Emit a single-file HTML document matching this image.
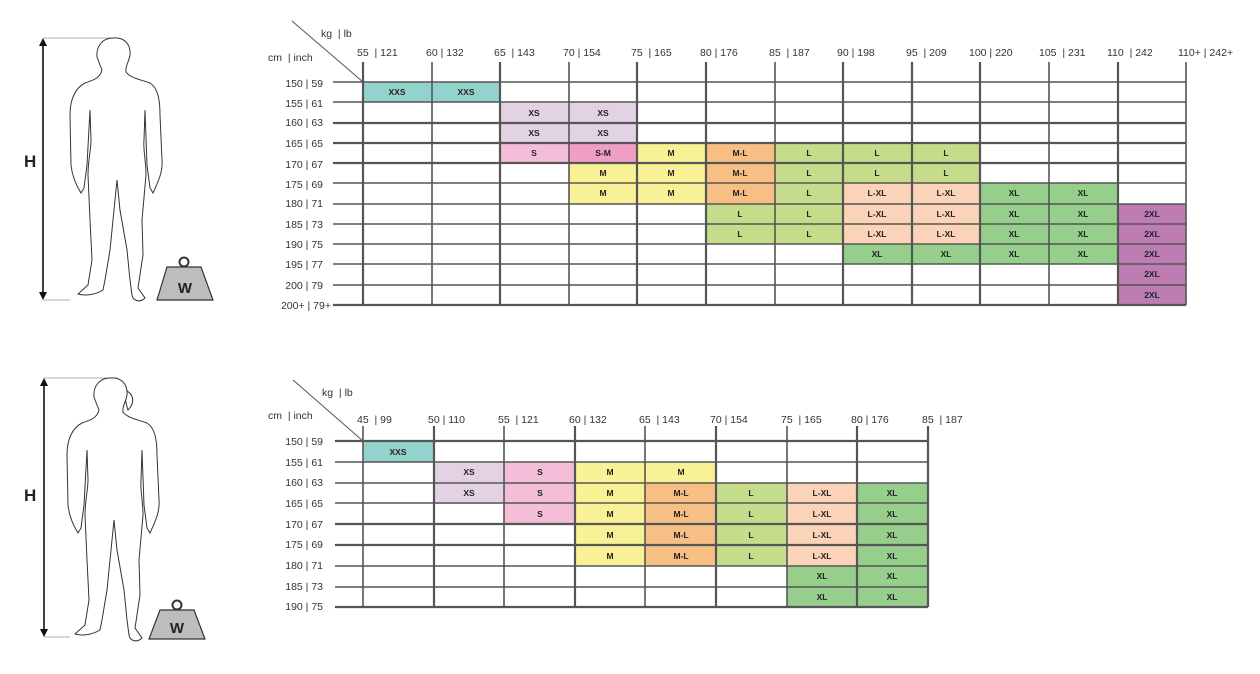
<!DOCTYPE html>
<html><head><meta charset="utf-8"><style>
html,body{margin:0;padding:0;background:#fff;}
svg{display:block;font-family:"Liberation Sans",sans-serif;}
.h{font-size:10.5px;fill:#333;}
.r{font-size:10.5px;fill:#333;text-anchor:end;}
.c{font-size:8.5px;font-weight:bold;fill:#222;text-anchor:middle;}
.g{stroke:#555;stroke-width:1.6;}
.gt{stroke:#555;stroke-width:2.2;}
.XXS{fill:#94d3cd}.XS{fill:#e3d1e4}.S{fill:#f5bed8}.SM{fill:#ef9ec4}.M{fill:#f8f195}.ML{fill:#f8bf85}.L{fill:#c5dc8a}.LXL{fill:#fbd3b9}.XL{fill:#96cf8c}.X2{fill:#bd7cb2}
</style></head><body>
<svg width="1260" height="674" viewBox="0 0 1260 674" xmlns="http://www.w3.org/2000/svg">
<defs>
<path id="body" fill="#fff" stroke="#333" stroke-width="1" d="M113,38 C124,37 131,44 130,55 C129,62 125,66 126,72 C130,78 142,80 150,83 C158,88 160,100 160,115 L162,160 C163,172 158,182 153,193 L150,188 L147,165 L145,110 L144,140 C143,150 146,160 146,175 L142,220 L143,255 L138,288 L145,298 C140,303 133,301 132,295 L130,280 L127,250 L120,210 L117,180 L114,210 L110,250 L105,280 L103,290 C95,295 85,296 78,294 L88,285 L92,260 L90,220 L88,175 C88,160 91,150 91,140 L90,110 L87,165 L84,188 L81,193 C76,185 72,175 71,165 L70,115 C70,100 75,88 85,83 C94,80 100,78 102,70 L100,65 L97,57 C96,47 102,38 113,38 Z"/>
</defs>
<!-- male figure -->
<line x1="43" y1="38" x2="118" y2="38" stroke="#999" stroke-width="0.8"/>
<line x1="43" y1="300" x2="70" y2="300" stroke="#999" stroke-width="0.8"/>
<line x1="43" y1="44" x2="43" y2="294" stroke="#111" stroke-width="1.6"/>
<polygon points="43,38 39,46 47,46" fill="#111"/><polygon points="43,300 39,292 47,292" fill="#111"/>
<text x="24" y="167" font-size="17" font-weight="bold" fill="#222">H</text>
<use href="#body"/>
<circle cx="184" cy="262" r="4.5" fill="#fff" stroke="#333" stroke-width="2"/>
<polygon points="167,267 201,267 213,300 157,300" fill="#bdbdbd" stroke="#333" stroke-width="1.2"/>
<text x="185" y="293" font-size="15" font-weight="bold" fill="#222" text-anchor="middle">W</text>

<!-- female figure -->
<line x1="44" y1="378" x2="118" y2="378" stroke="#999" stroke-width="0.8"/>
<line x1="44" y1="637" x2="70" y2="637" stroke="#999" stroke-width="0.8"/>
<line x1="44" y1="384" x2="44" y2="631" stroke="#111" stroke-width="1.6"/>
<polygon points="44,378 40,386 48,386" fill="#111"/><polygon points="44,637 40,629 48,629" fill="#111"/>
<text x="24" y="501" font-size="17" font-weight="bold" fill="#222">H</text>
<path d="M124,390 C133,392 136,402 128,410 C126,404 125,398 124,390 Z" fill="#fff" stroke="#333" stroke-width="1"/>
<use href="#body" transform="translate(-3,340)"/>
<circle cx="177" cy="605" r="4.5" fill="#fff" stroke="#333" stroke-width="2"/>
<polygon points="160,610 194,610 205,639 149,639" fill="#bdbdbd" stroke="#333" stroke-width="1.2"/>
<text x="177" y="633" font-size="15" font-weight="bold" fill="#222" text-anchor="middle">W</text>

<!-- TOP TABLE cells -->
<g>
<rect class="XXS" x="363" y="82" width="69" height="20"/><rect class="XXS" x="432" y="82" width="68" height="20"/>
<rect class="XS" x="500" y="102" width="69" height="21"/><rect class="XS" x="569" y="102" width="68" height="21"/>
<rect class="XS" x="500" y="123" width="69" height="20"/><rect class="XS" x="569" y="123" width="68" height="20"/>
<rect class="S" x="500" y="143" width="69" height="20"/><rect class="SM" x="569" y="143" width="68" height="20"/><rect class="M" x="637" y="143" width="69" height="20"/><rect class="ML" x="706" y="143" width="69" height="20"/><rect class="L" x="775" y="143" width="205" height="20"/>
<rect class="M" x="569" y="163" width="137" height="20"/><rect class="ML" x="706" y="163" width="69" height="20"/><rect class="L" x="775" y="163" width="205" height="20"/>
<rect class="M" x="569" y="183" width="137" height="21"/><rect class="ML" x="706" y="183" width="69" height="21"/><rect class="L" x="775" y="183" width="68" height="21"/><rect class="LXL" x="843" y="183" width="137" height="21"/><rect class="XL" x="980" y="183" width="138" height="21"/>
<rect class="L" x="706" y="204" width="137" height="40"/><rect class="LXL" x="843" y="204" width="137" height="40"/><rect class="XL" x="980" y="204" width="138" height="60"/><rect class="XL" x="843" y="244" width="137" height="20"/>
<rect class="X2" x="1118" y="204" width="68" height="101"/>
</g>
<g class="c">
<text x="397" y="95">XXS</text><text x="466" y="95">XXS</text>
<text x="534" y="116">XS</text><text x="603" y="116">XS</text>
<text x="534" y="136">XS</text><text x="603" y="136">XS</text>
<text x="534" y="156">S</text><text x="603" y="156">S-M</text><text x="671" y="156">M</text><text x="740" y="156">M-L</text><text x="809" y="156">L</text><text x="877" y="156">L</text><text x="946" y="156">L</text>
<text x="603" y="176">M</text><text x="671" y="176">M</text><text x="740" y="176">M-L</text><text x="809" y="176">L</text><text x="877" y="176">L</text><text x="946" y="176">L</text>
<text x="603" y="196">M</text><text x="671" y="196">M</text><text x="740" y="196">M-L</text><text x="809" y="196">L</text><text x="877" y="196">L-XL</text><text x="946" y="196">L-XL</text><text x="1014" y="196">XL</text><text x="1083" y="196">XL</text>
<text x="740" y="217">L</text><text x="809" y="217">L</text><text x="877" y="217">L-XL</text><text x="946" y="217">L-XL</text><text x="1014" y="217">XL</text><text x="1083" y="217">XL</text><text x="1152" y="217">2XL</text>
<text x="740" y="237">L</text><text x="809" y="237">L</text><text x="877" y="237">L-XL</text><text x="946" y="237">L-XL</text><text x="1014" y="237">XL</text><text x="1083" y="237">XL</text><text x="1152" y="237">2XL</text>
<text x="877" y="257">XL</text><text x="946" y="257">XL</text><text x="1014" y="257">XL</text><text x="1083" y="257">XL</text><text x="1152" y="257">2XL</text>
<text x="1152" y="277">2XL</text>
<text x="1152" y="298">2XL</text>
</g>
<!-- top grid -->
<g class="g">
<line x1="333" y1="82" x2="1186" y2="82"/><line x1="333" y1="102" x2="1186" y2="102"/><line class="gt" x1="333" y1="123" x2="1186" y2="123"/><line class="gt" x1="333" y1="143" x2="1186" y2="143"/><line class="gt" x1="333" y1="163" x2="1186" y2="163"/><line x1="333" y1="183" x2="1186" y2="183"/><line x1="333" y1="204" x2="1186" y2="204"/><line x1="333" y1="224" x2="1186" y2="224"/><line x1="333" y1="244" x2="1186" y2="244"/><line x1="333" y1="264" x2="1186" y2="264"/><line x1="333" y1="285" x2="1186" y2="285"/><line class="gt" x1="333" y1="305" x2="1186" y2="305"/>
</g>
<g class="gt">
<line x1="363" y1="62" x2="363" y2="305"/><line class="g" x1="432" y1="62" x2="432" y2="305"/><line x1="500" y1="62" x2="500" y2="305"/><line class="g" x1="569" y1="62" x2="569" y2="305"/><line x1="637" y1="62" x2="637" y2="305"/><line x1="706" y1="62" x2="706" y2="305"/><line class="g" x1="775" y1="62" x2="775" y2="305"/><line x1="843" y1="62" x2="843" y2="305"/><line x1="912" y1="62" x2="912" y2="305"/><line x1="980" y1="62" x2="980" y2="305"/><line class="g" x1="1049" y1="62" x2="1049" y2="305"/><line x1="1118" y1="62" x2="1118" y2="305"/><line class="g" x1="1186" y1="62" x2="1186" y2="305"/>
</g>
<line x1="292" y1="21" x2="363" y2="82" stroke="#555" stroke-width="1"/>
<text class="h" x="321" y="37">kg &#160;| lb</text>
<text class="h" x="268" y="61">cm &#160;| inch</text>
<g class="h">
<text x="357" y="56">55 &#160;| 121</text><text x="426" y="56">60 | 132</text><text x="494" y="56">65 &#160;| 143</text><text x="563" y="56">70 | 154</text><text x="631" y="56">75 &#160;| 165</text><text x="700" y="56">80 | 176</text><text x="769" y="56">85 &#160;| 187</text><text x="837" y="56">90 | 198</text><text x="906" y="56">95 &#160;| 209</text><text x="969" y="56">100 | 220</text><text x="1039" y="56">105 &#160;| 231</text><text x="1107" y="56">110 &#160;| 242</text><text x="1178" y="56">110+ | 242+</text>
</g>
<g class="r">
<text x="323" y="87">150 | 59</text><text x="323" y="107">155 | 61</text><text x="323" y="126">160 | 63</text><text x="323" y="147">165 | 65</text><text x="323" y="168">170 | 67</text><text x="323" y="188">175 | 69</text><text x="323" y="207">180 | 71</text><text x="323" y="228">185 | 73</text><text x="323" y="248">190 | 75</text><text x="323" y="268">195 | 77</text><text x="323" y="289">200 | 79</text><text x="331" y="309">200+ | 79+</text>
</g>

<!-- BOTTOM TABLE cells -->
<g>
<rect class="XXS" x="363" y="441" width="71" height="21"/>
<rect class="XS" x="434" y="462" width="70" height="42"/>
<rect class="S" x="504" y="462" width="71" height="62"/>
<rect class="M" x="575" y="462" width="70" height="104"/><rect class="M" x="645" y="462" width="71" height="21"/>
<rect class="ML" x="645" y="483" width="71" height="83"/>
<rect class="L" x="716" y="483" width="71" height="83"/>
<rect class="LXL" x="787" y="483" width="70" height="83"/>
<rect class="XL" x="857" y="483" width="71" height="124"/><rect class="XL" x="787" y="566" width="70" height="41"/>
</g>
<g class="c">
<text x="398" y="455">XXS</text>
<text x="469" y="475">XS</text><text x="540" y="475">S</text><text x="610" y="475">M</text><text x="681" y="475">M</text>
<text x="469" y="496">XS</text><text x="540" y="496">S</text><text x="610" y="496">M</text><text x="681" y="496">M-L</text><text x="751" y="496">L</text><text x="822" y="496">L-XL</text><text x="892" y="496">XL</text>
<text x="540" y="517">S</text><text x="610" y="517">M</text><text x="681" y="517">M-L</text><text x="751" y="517">L</text><text x="822" y="517">L-XL</text><text x="892" y="517">XL</text>
<text x="610" y="538">M</text><text x="681" y="538">M-L</text><text x="751" y="538">L</text><text x="822" y="538">L-XL</text><text x="892" y="538">XL</text>
<text x="610" y="559">M</text><text x="681" y="559">M-L</text><text x="751" y="559">L</text><text x="822" y="559">L-XL</text><text x="892" y="559">XL</text>
<text x="822" y="579">XL</text><text x="892" y="579">XL</text>
<text x="822" y="600">XL</text><text x="892" y="600">XL</text>
</g>
<g class="g">
<line class="gt" x1="335" y1="441" x2="928" y2="441"/><line x1="335" y1="462" x2="928" y2="462"/><line x1="335" y1="483" x2="928" y2="483"/><line x1="335" y1="503" x2="928" y2="503"/><line class="gt" x1="335" y1="524" x2="928" y2="524"/><line class="gt" x1="335" y1="545" x2="928" y2="545"/><line x1="335" y1="566" x2="928" y2="566"/><line x1="335" y1="587" x2="928" y2="587"/><line class="gt" x1="335" y1="607" x2="928" y2="607"/>
</g>
<g class="gt">
<line class="g" x1="363" y1="426" x2="363" y2="607"/><line x1="434" y1="426" x2="434" y2="607"/><line class="g" x1="504" y1="426" x2="504" y2="607"/><line x1="575" y1="426" x2="575" y2="607"/><line class="g" x1="645" y1="426" x2="645" y2="607"/><line x1="716" y1="426" x2="716" y2="607"/><line class="g" x1="787" y1="426" x2="787" y2="607"/><line x1="857" y1="426" x2="857" y2="607"/><line x1="928" y1="426" x2="928" y2="607"/>
</g>
<line x1="293" y1="380" x2="363" y2="441" stroke="#555" stroke-width="1"/>
<text class="h" x="322" y="396">kg &#160;| lb</text>
<text class="h" x="268" y="419">cm &#160;| inch</text>
<g class="h">
<text x="357" y="423">45 &#160;| 99</text><text x="428" y="423">50 | 110</text><text x="498" y="423">55 &#160;| 121</text><text x="569" y="423">60 | 132</text><text x="639" y="423">65 &#160;| 143</text><text x="710" y="423">70 | 154</text><text x="781" y="423">75 &#160;| 165</text><text x="851" y="423">80 | 176</text><text x="922" y="423">85 &#160;| 187</text>
</g>
<g class="r">
<text x="323" y="445">150 | 59</text><text x="323" y="466">155 | 61</text><text x="323" y="486">160 | 63</text><text x="323" y="507">165 | 65</text><text x="323" y="528">170 | 67</text><text x="323" y="548">175 | 69</text><text x="323" y="569">180 | 71</text><text x="323" y="590">185 | 73</text><text x="323" y="610">190 | 75</text>
</g>
</svg>
</body></html>
